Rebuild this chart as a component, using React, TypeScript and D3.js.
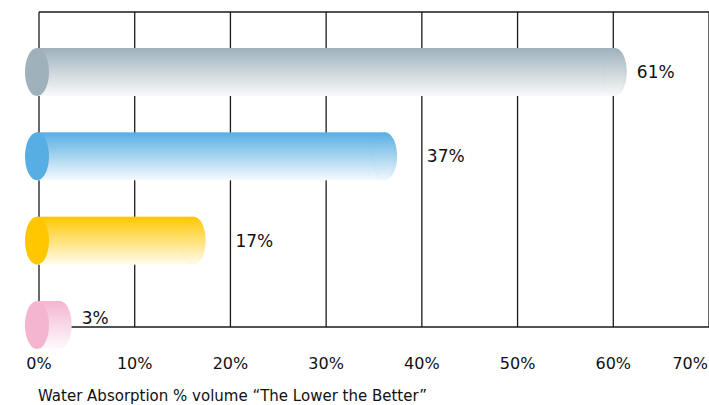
import React from "react";
import * as d3 from "d3";

// Water absorption (% volume) per material, top to bottom
const values: number[] = [61, 37, 17, 3];
const barColors: string[] = ["#9fb1bb", "#57aee2", "#ffc700", "#f4b5d1"];
const tickValues: number[] = [0, 10, 20, 30, 40, 50, 60, 70];
const axisTitle = "Water Absorption % volume \u201CThe Lower the Better\u201D";

const W = 709;
const H = 405;
const FONT = "'DejaVu Sans', Verdana, sans-serif";

export default function App() {
  const x = d3.scaleLinear().domain([0, 70]).range([39, 709]);
  const y = d3
    .scalePoint<number>()
    .domain(values.map((_, i) => i))
    .range([72, 325]);

  const top = 12;
  const axisY = 327;
  const ry = 24;
  const rx = 12;
  const capOffset = 4;
  const labelGap = 10;
  const labelWidth = 38;
  const gridClear = 5;

  // keep a value label clear of any vertical grid line it would sit on
  const labelX = (start: number) => {
    let lx = start;
    for (const t of tickValues) {
      const gx = x(t);
      if (gx >= lx - 2 && gx <= lx + labelWidth) lx = gx + gridClear;
    }
    return lx;
  };

  return (
    <svg
      width={W}
      height={H}
      style={{ position: "fixed", left: 0, top: 0, background: "#fff" }}
    >
      <defs>
        {barColors.map((c, i) => (
          <linearGradient key={i} id={`cyl-${i}`} x1="0" y1="0" x2="0" y2="1">
            <stop offset="0" stopColor={c} />
            <stop offset="1" stopColor={d3.interpolateRgb(c, "#ffffff")(0.94)} />
          </linearGradient>
        ))}
      </defs>

      {/* frame and vertical grid */}
      <line x1={x(0)} x2={W} y1={top} y2={top} stroke="#1a1a1a" strokeWidth={1.3} />
      <line x1={x(0)} x2={W} y1={axisY} y2={axisY} stroke="#1a1a1a" strokeWidth={1.3} />
      {tickValues.map((t) => (
        <line
          key={t}
          x1={x(t)}
          x2={x(t)}
          y1={top}
          y2={axisY}
          stroke="#1a1a1a"
          strokeWidth={1.3}
        />
      ))}

      {/* cylinders */}
      {values.map((v, i) => {
        const cy = y(i) as number;
        const left = x(0) - 2;
        const rightEdge = x(v) + capOffset;
        const rightC = rightEdge - rx;
        const labelY = Math.min(cy + 6, axisY - 3);
        return (
          <g key={i}>
            <rect
              x={left}
              y={cy - ry}
              width={Math.max(0, rightC - left)}
              height={ry * 2}
              fill={`url(#cyl-${i})`}
            />
            <ellipse
              cx={rightC}
              cy={cy}
              rx={rx}
              ry={ry}
              fill={`url(#cyl-${i})`}
            />
            <ellipse
              cx={rightC - 1}
              cy={cy}
              rx={rx - 1}
              ry={ry - 1}
              fill="none"
              stroke={barColors[i]}
              strokeOpacity={0.08}
              strokeWidth={1}
            />
            <ellipse cx={left} cy={cy} rx={rx} ry={ry} fill={barColors[i]} />
            <text
              x={labelX(rightEdge + labelGap)}
              y={labelY}
              fontFamily={FONT}
              fontSize={17}
              fill="#111"
            >
              {`${v}%`}
            </text>
          </g>
        );
      })}

      {/* tick labels */}
      {tickValues.map((t) => {
        const tx = x(t);
        const overflow = tx + 20 > W;
        return (
          <text
            key={t}
            x={overflow ? W - 1 : tx}
            y={369}
            textAnchor={overflow ? "end" : "middle"}
            fontFamily={FONT}
            fontSize={16}
            fill="#111"
          >
            {`${t}%`}
          </text>
        );
      })}

      <text x={38} y={401} fontFamily={FONT} fontSize={15} fill="#111">
        {axisTitle}
      </text>
    </svg>
  );
}
